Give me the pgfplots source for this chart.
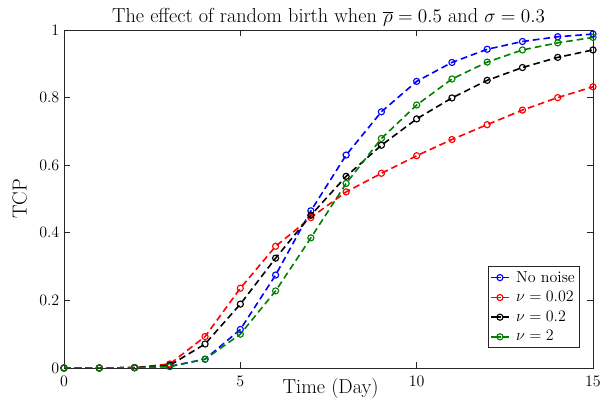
\documentclass[border=0pt]{standalone}
\usepackage{pgfplots}
\pgfplotsset{compat=1.18}
\definecolor{mgreen}{rgb}{0,0.5,0}
\definecolor{axgray}{rgb}{0.15,0.15,0.15}
\begin{document}
\begin{tikzpicture}
\begin{axis}[
  scale only axis,
  width=396.75pt, height=253.5pt,
  xmin=0, xmax=15, ymin=0, ymax=1,
  xtick={0,5,10,15}, ytick={0,0.2,0.4,0.6,0.8,1},
  tick align=inside, tick pos=both,
  axis line style={axgray, line width=0.6pt},
  major tick style={axgray, line width=0.6pt},
  tick label style={font=\fontsize{12.75}{15}\selectfont},
  xticklabel style={yshift=-2.5pt},
  title={The effect of random birth when $\overline{\rho}=0.5$ and $\sigma=0.3$},
  title style={font=\fontsize{15.2}{18}\selectfont, yshift=-6.5pt},
  xlabel={Time (Day)}, ylabel={TCP},
  xlabel style={font=\fontsize{15.2}{18}\selectfont, at={(axis description cs:0.504,0)}, anchor=north, yshift=-4.5pt},
  ylabel style={font=\fontsize{15.2}{18}\selectfont, at={(axis description cs:-0.0611,0.5)}, anchor=south},
  legend style={at={(0.9754,0.059)}, anchor=south east, font=\fontsize{12}{14}\selectfont, draw=axgray, line width=0.6pt, inner sep=1.5pt, row sep=1.5pt},
  legend cell align=left,
  legend image code/.code={\draw[#1, mark repeat=2, mark phase=2, dash pattern=on 3pt off 1.5pt] plot coordinates {(0pt,0pt) (6.5pt,0pt) (13pt,0pt)}; \path (0pt,0pt) -- (16pt,0pt);},
  every axis plot/.append style={line width=1.2pt, dash pattern=on 5pt off 3pt, mark=o, mark size=2.3pt, mark options={solid, line width=0.85pt}},
]
\addplot[blue] coordinates {(0,0)(1,0)(2,0.001)(3,0.005)(4,0.026)(5,0.114)(6,0.275)(7,0.465)(8,0.630)(9,0.758)(10,0.848)(11,0.904)(12,0.943)(13,0.966)(14,0.980)(15,0.988)};
\addplot[red] coordinates {(0,0)(1,0)(2,0.001)(3,0.012)(4,0.093)(5,0.236)(6,0.360)(7,0.445)(8,0.521)(9,0.576)(10,0.628)(11,0.676)(12,0.720)(13,0.763)(14,0.800)(15,0.832)};
\addplot[black] coordinates {(0,0)(1,0)(2,0.001)(3,0.008)(4,0.071)(5,0.189)(6,0.325)(7,0.452)(8,0.567)(9,0.659)(10,0.737)(11,0.799)(12,0.851)(13,0.889)(14,0.919)(15,0.941)};
\addplot[mgreen] coordinates {(0,0)(1,0)(2,0.001)(3,0.004)(4,0.026)(5,0.100)(6,0.228)(7,0.385)(8,0.546)(9,0.679)(10,0.778)(11,0.855)(12,0.905)(13,0.941)(14,0.962)(15,0.978)};
\legend{No noise, $\nu=0.02$, $\nu=0.2$, $\nu=2$}
\coordinate (SW) at (rel axis cs:0,0);
\coordinate (NE) at (rel axis cs:1,1);
\end{axis}
\pgfresetboundingbox
\useasboundingbox ([shift={(-48pt,-26.25pt)}]SW) rectangle ([shift={(5.25pt,22.5pt)}]NE);
\end{tikzpicture}
\end{document}
